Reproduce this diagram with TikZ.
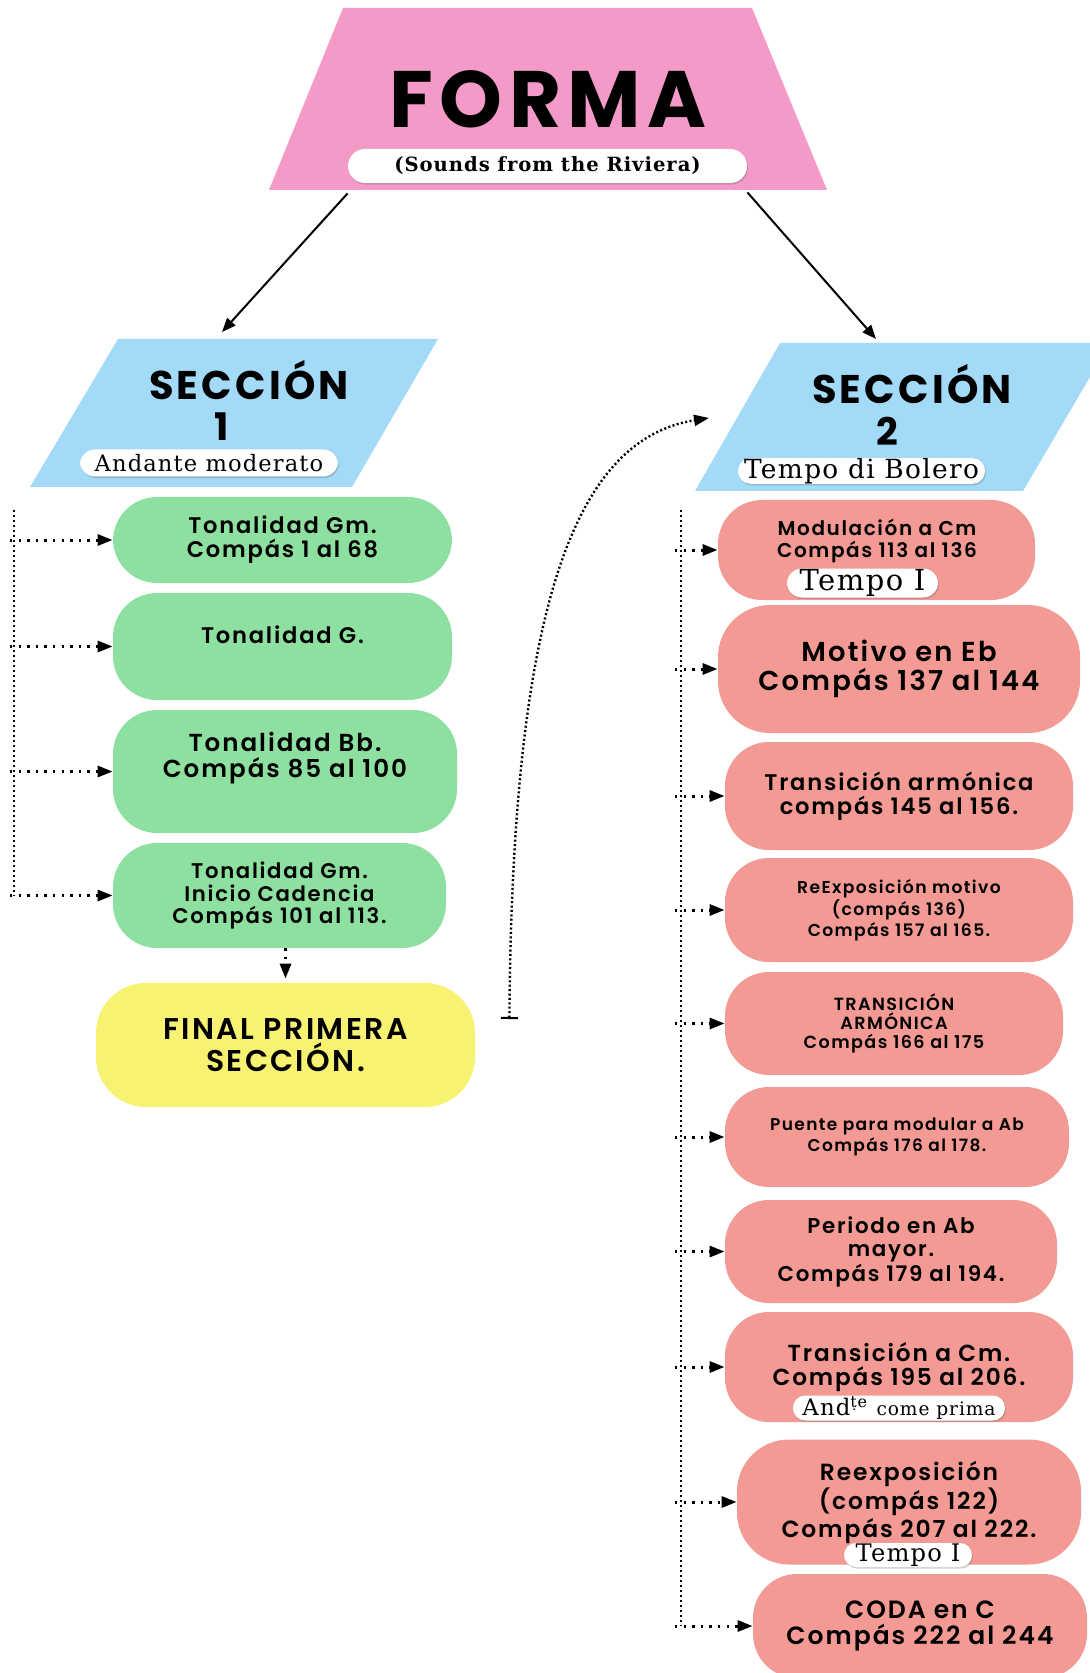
\documentclass[tikz,border=0pt]{standalone}
\usepackage{fontspec}
\setsansfont{Poppins}[BoldFont={* SemiBold}, LetterSpace=8, Numbers=Monospaced]
\newfontfamily\headfont{Poppins}[LetterSpace=8]
\newfontfamily\scorefont{DejaVu Serif}[LetterSpace=5]
\usepackage{tikz}
\usetikzlibrary{arrows.meta, positioning, calc, shadows}

\definecolor{formapink}{HTML}{F39AC8}
\definecolor{seccblue}{HTML}{A3DAF7}
\definecolor{tonalgreen}{HTML}{8EE0A0}
\definecolor{finalyellow}{HTML}{F7F272}
\definecolor{seccred}{HTML}{F29A93}

% font size with a fixed line spacing
\newcommand{\fsz}[1]{\fontsize{#1pt}{\fpeval{1.07*#1}pt}\selectfont}

\tikzset{
  sheet/.style={rounded corners=22pt, inner sep=2pt, align=center, font=\sffamily\bfseries},
  tonalbox/.style={sheet, fill=tonalgreen},
  seccbox/.style={sheet, fill=seccred},
  tempobox/.style={fill=white, rounded corners=7.5pt, inner sep=0pt, font=\scorefont,
    drop shadow={shadow xshift=0.5pt, shadow yshift=-0.8pt, opacity=0.3, fill=black!60}},
  headtext/.style={font=\headfont\bfseries, inner sep=0pt},
  flow/.style={line width=1pt, -{Triangle[length=7pt,width=5.5pt]}},
  dotflow/.style={line width=1.5pt, dash pattern=on 1.2pt off 3.1pt, -{Triangle[length=7.5pt,width=5.5pt]}},
  trunk/.style={line width=1.3pt, dash pattern=on 1pt off 1.5pt},
}

\begin{document}
\begin{tikzpicture}[x=0.5pt, y=-0.5pt]
\useasboundingbox (0,0) rectangle (1089,1673);

% Title
\fill[formapink] (343,8) -- (752,8) -- (827,190) -- (269,190) -- cycle;
\node[headtext, font=\headfont\bfseries\fsz{40}] (forma) at (548,99) {FORMA};
\node[tempobox, minimum width=199.5pt, minimum height=17pt, rounded corners=8.5pt, font=\scorefont\bfseries\fsz{9.8}] (riviera) at (547.5,166) {(Sounds from the Riviera)};

% Sections
\fill[seccblue] (118,339) -- (438,339) -- (352,487) -- (30,487) -- cycle;
\fill[seccblue] (780,343) -- (1110,343) -- (1023,491) -- (695,491) -- cycle;
\node[headtext, font=\headfont\bfseries\fsz{20}, anchor=base] (sec1) at (249,400) {SECCIÓN};
\node[headtext, font=\headfont\bfseries\fsz{19}, anchor=base] (sec1num) at (222,441) {1};
\node[tempobox, minimum width=129pt, minimum height=13.5pt, font=\scorefont\fsz{11.3}] (andante) at (209,463) {Andante moderato};
\node[headtext, font=\headfont\bfseries\fsz{20}, anchor=base] (sec2) at (912,404) {SECCIÓN};
\node[headtext, font=\headfont\bfseries\fsz{19}, anchor=base] (sec2num) at (887,446) {2};
\node[tempobox, minimum width=123.5pt, minimum height=12.5pt, rounded corners=6.2pt, font=\scorefont\fsz{13.2}] (bolero) at (861.5,471) {Tempo di Bolero};

\coordinate (sec1in) at (222,332);
\coordinate (sec2top) at (876,339);
\draw[flow] ([yshift=-5pt]riviera.south west) -- (sec1in);
\draw[flow] ([yshift=-4.5pt]riviera.south east) -- (sec2top);

% Section 1
\node[tonalbox, minimum width=169.5pt, minimum height=43pt, font=\sffamily\bfseries\fsz{11.3}] (gm1) at (282.5,540) {Tonalidad Gm.\\Compás 1 al 68};
\node[tonalbox, minimum width=169.5pt, minimum height=53.5pt] (g2) at (282.5,646.5) {};
\node[headtext, font=\sffamily\bfseries\fsz{11.3}] (g2text) at (282.5,635) {Tonalidad G.};
\node[tonalbox, minimum width=172pt, minimum height=61.5pt] (bb3) at (285,771.5) {};
\node[headtext, align=center, font=\sffamily\bfseries\fsz{12.3}] (bb3text) at (285,758) {Tonalidad Bb.\\Compás 85 al 100};
\node[tonalbox, minimum width=166.5pt, minimum height=52.5pt, font=\sffamily\bfseries\fsz{10.6}] (gm4) at (279.5,895.5) {Tonalidad Gm.\\Inicio Cadencia\\Compás 101 al 113.};
\node[sheet, fill=finalyellow, minimum width=189.5pt, minimum height=62pt, rounded corners=25pt, font=\sffamily\bfseries\fsz{15}] (final) at (285.5,1045) {FINAL PRIMERA\\SECCIÓN.};

\coordinate (ltop) at (14,510);
\coordinate (lbot) at (14,896);
\draw[trunk] (ltop) -- (lbot);
\foreach \b in {gm1,g2,bb3,gm4}
  \draw[dotflow] ([xshift=-2pt]ltop |- \b.west) -- (\b.west);
\draw[dotflow, shorten >=2pt] (final.north |- gm4.south) -- (final.north);

% Link to section 2
\draw[line width=1.2pt, dash pattern=on 1pt off 1.2pt, {Bar[width=8.5pt,line width=1pt]}-{Triangle[length=7.5pt,width=5.5pt]}]
  ([xshift=17pt,yshift=13pt]final.east) .. controls (512,620) and (570,440) .. (709,418);

% Section 2
\node[seccbox, minimum width=158.5pt, minimum height=50pt] (r1) at (876.5,550) {};
\node[headtext, align=center, font=\sffamily\bfseries\fsz{10}] (r1text) at (877,541) {Modulación a Cm\\Compás 113 al 136};
\node[tempobox, minimum width=75.5pt, minimum height=14.5pt, font=\scorefont\fsz{14.5}] (tempo1) at (862.5,583) {Tempo I};
\node[seccbox, minimum width=181pt, minimum height=64pt, rounded corners=26pt, font=\sffamily\bfseries\fsz{13.7}] (r2) at (899,669) {Motivo en Eb\\Compás 137 al 144};
\node[seccbox, minimum width=174pt, minimum height=54pt, font=\sffamily\bfseries\fsz{11.3}] (r3) at (899,796) {Transición armónica\\compás 145 al 156.};
\node[seccbox, minimum width=174pt, minimum height=52pt, font=\sffamily\bfseries\fsz{8.6}] (r4) at (899,910) {ReExposición motivo\\(compás 136)\\Compás 157 al 165.};
\node[seccbox, minimum width=169pt, minimum height=51.5pt, font=\sffamily\bfseries\fsz{8.8}] (r5) at (894,1023.5) {TRANSICIÓN\\ARMÓNICA\\Compás 166 al 175};
\node[seccbox, minimum width=172pt, minimum height=50pt, font=\sffamily\bfseries\fsz{8.5}] (r6) at (897,1137) {Puente para modular a Ab\\Compás 176 al 178.};
\node[seccbox, minimum width=166pt, minimum height=51.5pt, font=\sffamily\bfseries\fsz{10.7}] (r7) at (891,1251.5) {Periodo en Ab\\mayor.\\Compás 179 al 194.};
\node[seccbox, minimum width=174pt, minimum height=55pt, font=\sffamily\bfseries\fsz{11.6}] (r8) at (899,1367) {Transición a Cm.\\Compás 195 al 206.};
\node[tempobox, minimum width=106pt, minimum height=12.5pt, rounded corners=6.2pt, font=\scorefont\fsz{11.4}] (andte) at (899,1408) {And\textsuperscript{\d{t}e} {\fsz{9.3}come prima}};
\node[seccbox, minimum width=172pt, minimum height=62.5pt, rounded corners=26pt, font=\sffamily\bfseries\fsz{11.7}] (r9) at (909,1502) {Reexposición\\(compás 122)\\Compás 207 al 222.};
\node[tempobox, minimum width=64pt, minimum height=12pt, rounded corners=6pt, font=\scorefont\fsz{12.1}] (tempo2) at (908,1555) {Tempo I};
\node[seccbox, minimum width=167pt, minimum height=52pt, font=\sffamily\bfseries\fsz{12.5}] (r10) at (920,1626) {CODA en C\\Compás 222 al 244};

\coordinate (rtop) at (681,510);
\coordinate (rbot) at (681,1626);
\draw[trunk] (rtop) -- (rbot);
\foreach \b in {r1,r2,r3,r4,r5,r6,r7,r8,r9,r10}
  \draw[dotflow] ([xshift=-3pt]rtop |- \b.west) -- (\b.west);
\end{tikzpicture}
\end{document}
